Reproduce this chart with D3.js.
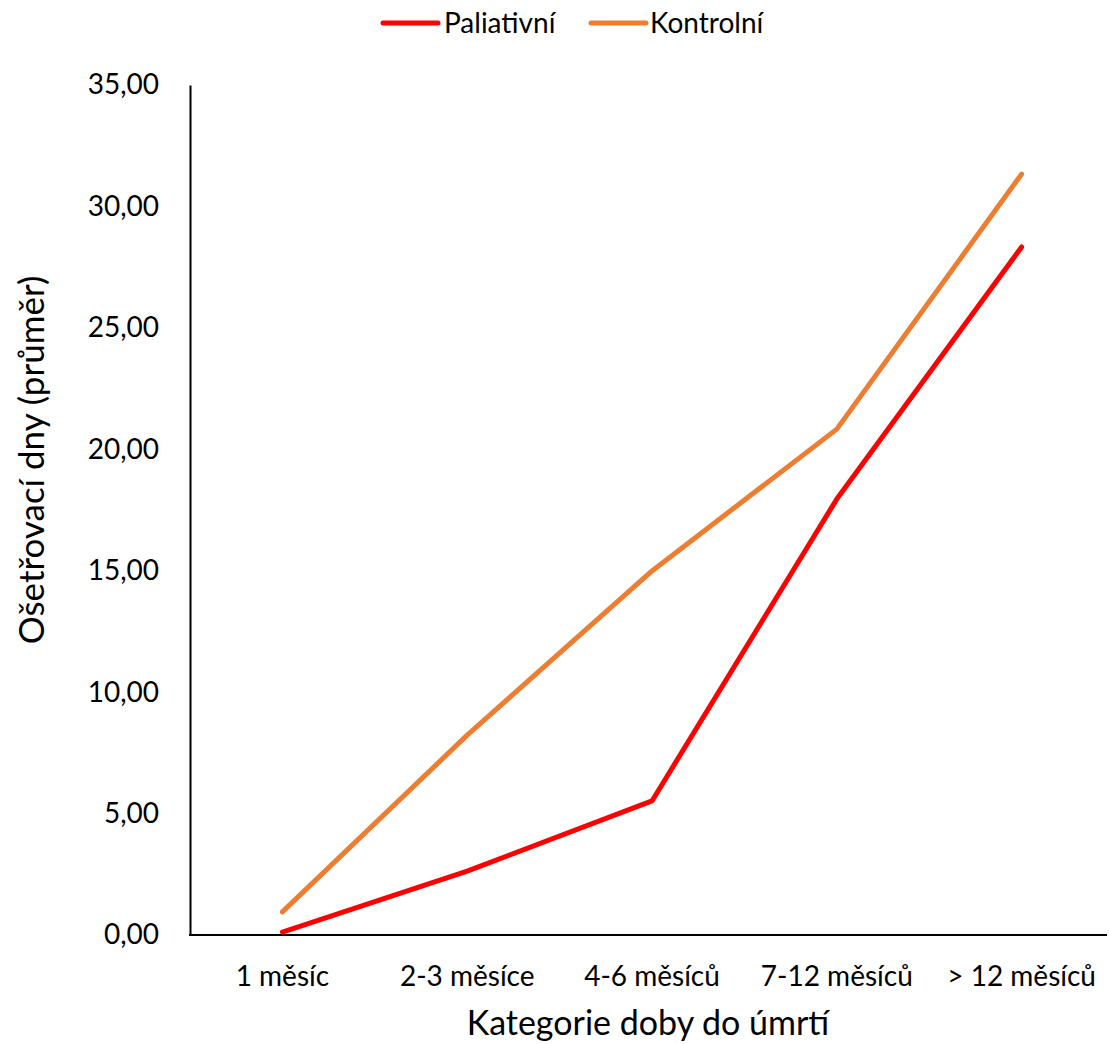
<!DOCTYPE html>
<html><head><meta charset="utf-8">
<script src="https://cdn.jsdelivr.net/npm/d3@7"></script>
<style>body{margin:0;background:#fff}svg{display:block}</style>
</head><body>
<script>
const categories = ["1 měsíc", "2-3 měsíce", "4-6 měsíců", "7-12 měsíců", "> 12 měsíců"];
const paliativni = [0.12, 2.63, 5.52, 17.95, 28.33];
const kontrolni = [0.95, 8.23, 14.99, 20.83, 31.33];
const yTicks = [0, 5, 10, 15, 20, 25, 30, 35];
const seriesNames = ["Paliativní", "Kontrolní"];
const colors = ["#FF0000", "#ED7D31"];

(function () {
const W = 1109, H = 1044;
const font = "Lato, 'Open Sans', sans-serif";
const svg = d3.select("body").append("svg").attr("width", W).attr("height", H);
const mLeft = 190, mRight = 1114, axisEnd = 1107, mTop = 85, mBottom = 935;
const x = d3.scaleBand().domain(categories).range([mLeft, mRight]);
const y = d3.scaleLinear().domain([0, 35]).range([mBottom, mTop]);

const fmt = v => d3.format(".2f")(v).replace(".", ",");

// Y axis
const ya = svg.append("g").attr("transform", `translate(${mLeft},0)`)
  .call(d3.axisLeft(y).tickValues(yTicks).tickFormat(fmt).tickSize(0).tickPadding(31));
ya.select(".domain").attr("stroke", "#000").attr("stroke-width", 2);
ya.selectAll("text").attr("font-family", font).attr("font-size", 28).attr("fill", "#000");

// X axis
const xa = svg.append("g").attr("transform", `translate(0,${mBottom})`)
  .call(d3.axisBottom(x).tickSize(0).tickPadding(31));
xa.select(".domain").remove();
xa.selectAll("text").attr("font-family", font).attr("font-size", 28).attr("fill", "#000");
svg.append("line").attr("x1", mLeft - 1).attr("x2", axisEnd).attr("y1", mBottom).attr("y2", mBottom)
  .attr("stroke", "#000").attr("stroke-width", 2);

// Lines
const line = d3.line().x((d, i) => x(categories[i]) + x.bandwidth() / 2).y(d => y(d));
[paliativni, kontrolni].forEach((s, k) => {
  svg.append("path").datum(s).attr("d", line).attr("fill", "none")
    .attr("stroke", colors[k]).attr("stroke-width", 5)
    .attr("stroke-linecap", "round").attr("stroke-linejoin", "round");
});

// Axis titles
svg.append("text").attr("x", 648).attr("y", 1035).attr("text-anchor", "middle")
  .attr("font-family", font).attr("font-size", 34).attr("fill", "#000").text("Kategorie doby do úmrtí");
svg.append("text").attr("transform", "translate(44,460) rotate(-90)").attr("text-anchor", "middle")
  .attr("font-family", font).attr("font-size", 35).attr("fill", "#000").text("Ošetřovací dny (průměr)");

// Legend
const leg = [[383, 444], [591, 650]];
seriesNames.forEach((n, k) => {
  svg.append("line").attr("x1", leg[k][0]).attr("x2", leg[k][0] + 55).attr("y1", 23).attr("y2", 23)
    .attr("stroke", colors[k]).attr("stroke-width", 5).attr("stroke-linecap", "round");
  svg.append("text").attr("x", leg[k][1]).attr("y", 33).attr("font-family", font).attr("font-size", 28)
    .attr("fill", "#000").text(n);
});
})();
</script>
</body></html>
